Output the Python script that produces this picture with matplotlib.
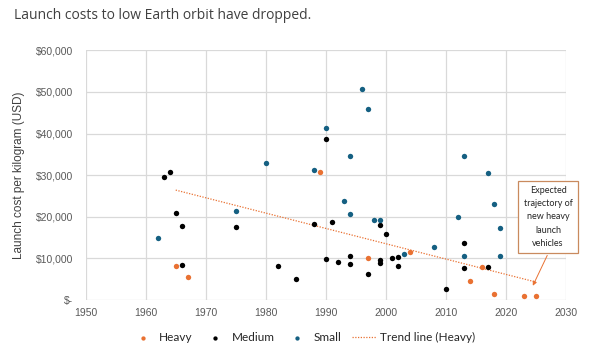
import matplotlib.pyplot as plt
from matplotlib.ticker import FuncFormatter

# Launch cost per kilogram (USD) by first-flight year
heavy_years = [1965, 1967, 1989, 1997, 2004, 2014, 2016, 2018, 2023, 2025]
heavy_costs = [8100, 5400, 30800, 10100, 11600, 4500, 7850, 1450, 900, 900]

medium_years = [1963, 1964, 1965, 1966, 1966, 1975, 1982, 1985, 1988, 1990,
                1990, 1991, 1992, 1994, 1994, 1997, 1999, 1999, 1999, 2000,
                2001, 2002, 2002, 2010, 2013, 2013, 2017]
medium_costs = [29500, 30700, 21000, 17800, 8300, 17500, 8250, 5100, 18300, 38800,
                9950, 18750, 9050, 10500, 8550, 6150, 18000, 9700, 8900, 15950,
                10000, 10350, 8200, 2650, 13600, 7600, 8000]

small_years = [1962, 1975, 1980, 1988, 1990, 1993, 1994, 1994, 1996, 1997,
               1998, 1999, 2003, 2008, 2012, 2013, 2013, 2017, 2018, 2019, 2019]
small_costs = [14900, 21400, 32800, 31250, 41300, 23700, 34600, 20700, 50700, 45800,
               19100, 19100, 11150, 12650, 19950, 34550, 10650, 30600, 23150, 17200,
               10650]

trend_years = [1965, 2025]
trend_costs = [26400, 4300]

ORANGE = '#E97132'
TEAL = '#156082'
GRID = '#d9d9d9'
TXT = '#595959'


def money(v, pos):
    if v == 0:
        return '$-'
    return '${:,.0f}'.format(v)


fig = plt.figure(figsize=(5.95, 3.52), dpi=100)
ax = fig.add_axes([0.144, 0.148, 0.807, 0.709])

ax.scatter(heavy_years, heavy_costs, s=15, color=ORANGE, linewidths=0,
           label='Heavy', zorder=3)
ax.scatter(medium_years, medium_costs, s=15, color='black', linewidths=0,
           label='Medium', zorder=3)
ax.scatter(small_years, small_costs, s=15, color=TEAL, linewidths=0,
           label='Small', zorder=3)
ax.plot(trend_years, trend_costs, color=ORANGE, lw=0.9, ls=(0, (1, 1.2)),
        label='Trend line (Heavy)', zorder=2)

ax.set_xlim(1950, 2030)
ax.set_ylim(0, 60000)
ax.set_xticks(range(1950, 2031, 10))
ax.set_yticks(range(0, 60001, 10000))
ax.yaxis.set_major_formatter(FuncFormatter(money))
ax.grid(True, color=GRID, lw=0.9)
ax.set_axisbelow(True)
for s in ax.spines.values():
    s.set_visible(False)
ax.tick_params(length=0, labelsize=7.5, labelcolor=TXT)
ax.tick_params(axis='y', pad=9)
ax.tick_params(axis='x', pad=6)
for lab in ax.get_xticklabels() + ax.get_yticklabels():
    lab.set_family('Liberation Sans')

ax.set_ylabel('Launch cost per kilogram (USD)', fontsize=8.5, color='#404040',
              family='Liberation Sans', labelpad=8)

# callout box and arrow
ax.annotate('', xy=(2024.3, 2800), xytext=(2027.1, 11300),
            arrowprops=dict(arrowstyle='-|>', color=ORANGE, lw=0.7,
                            mutation_scale=6), zorder=4)
ax.text(2027.05, 19950, 'Expected\ntrajectory of\nnew heavy\nlaunch\nvehicles',
        ha='center', va='center', fontsize=6.5, family='Lato', color='#262626',
        linespacing=1.6,
        bbox=dict(boxstyle='square,pad=0.6', fc='white', ec='#C98A5E', lw=0.9),
        zorder=5)

fig.text(0.024, 0.955, 'Launch costs to low Earth orbit have dropped.',
         fontsize=10, family='Open Sans', color='#404040', va='center')

leg = ax.legend(loc='center', bbox_to_anchor=(0.453, -0.152), ncol=4, frameon=False,
                prop={'family': 'Lato', 'size': 8.5}, handlelength=2.0,
                handletextpad=0.4, columnspacing=0.9, markerscale=0.8)
for t in leg.get_texts():
    t.set_color('#262626')

fig.savefig('out.png', dpi=100)
